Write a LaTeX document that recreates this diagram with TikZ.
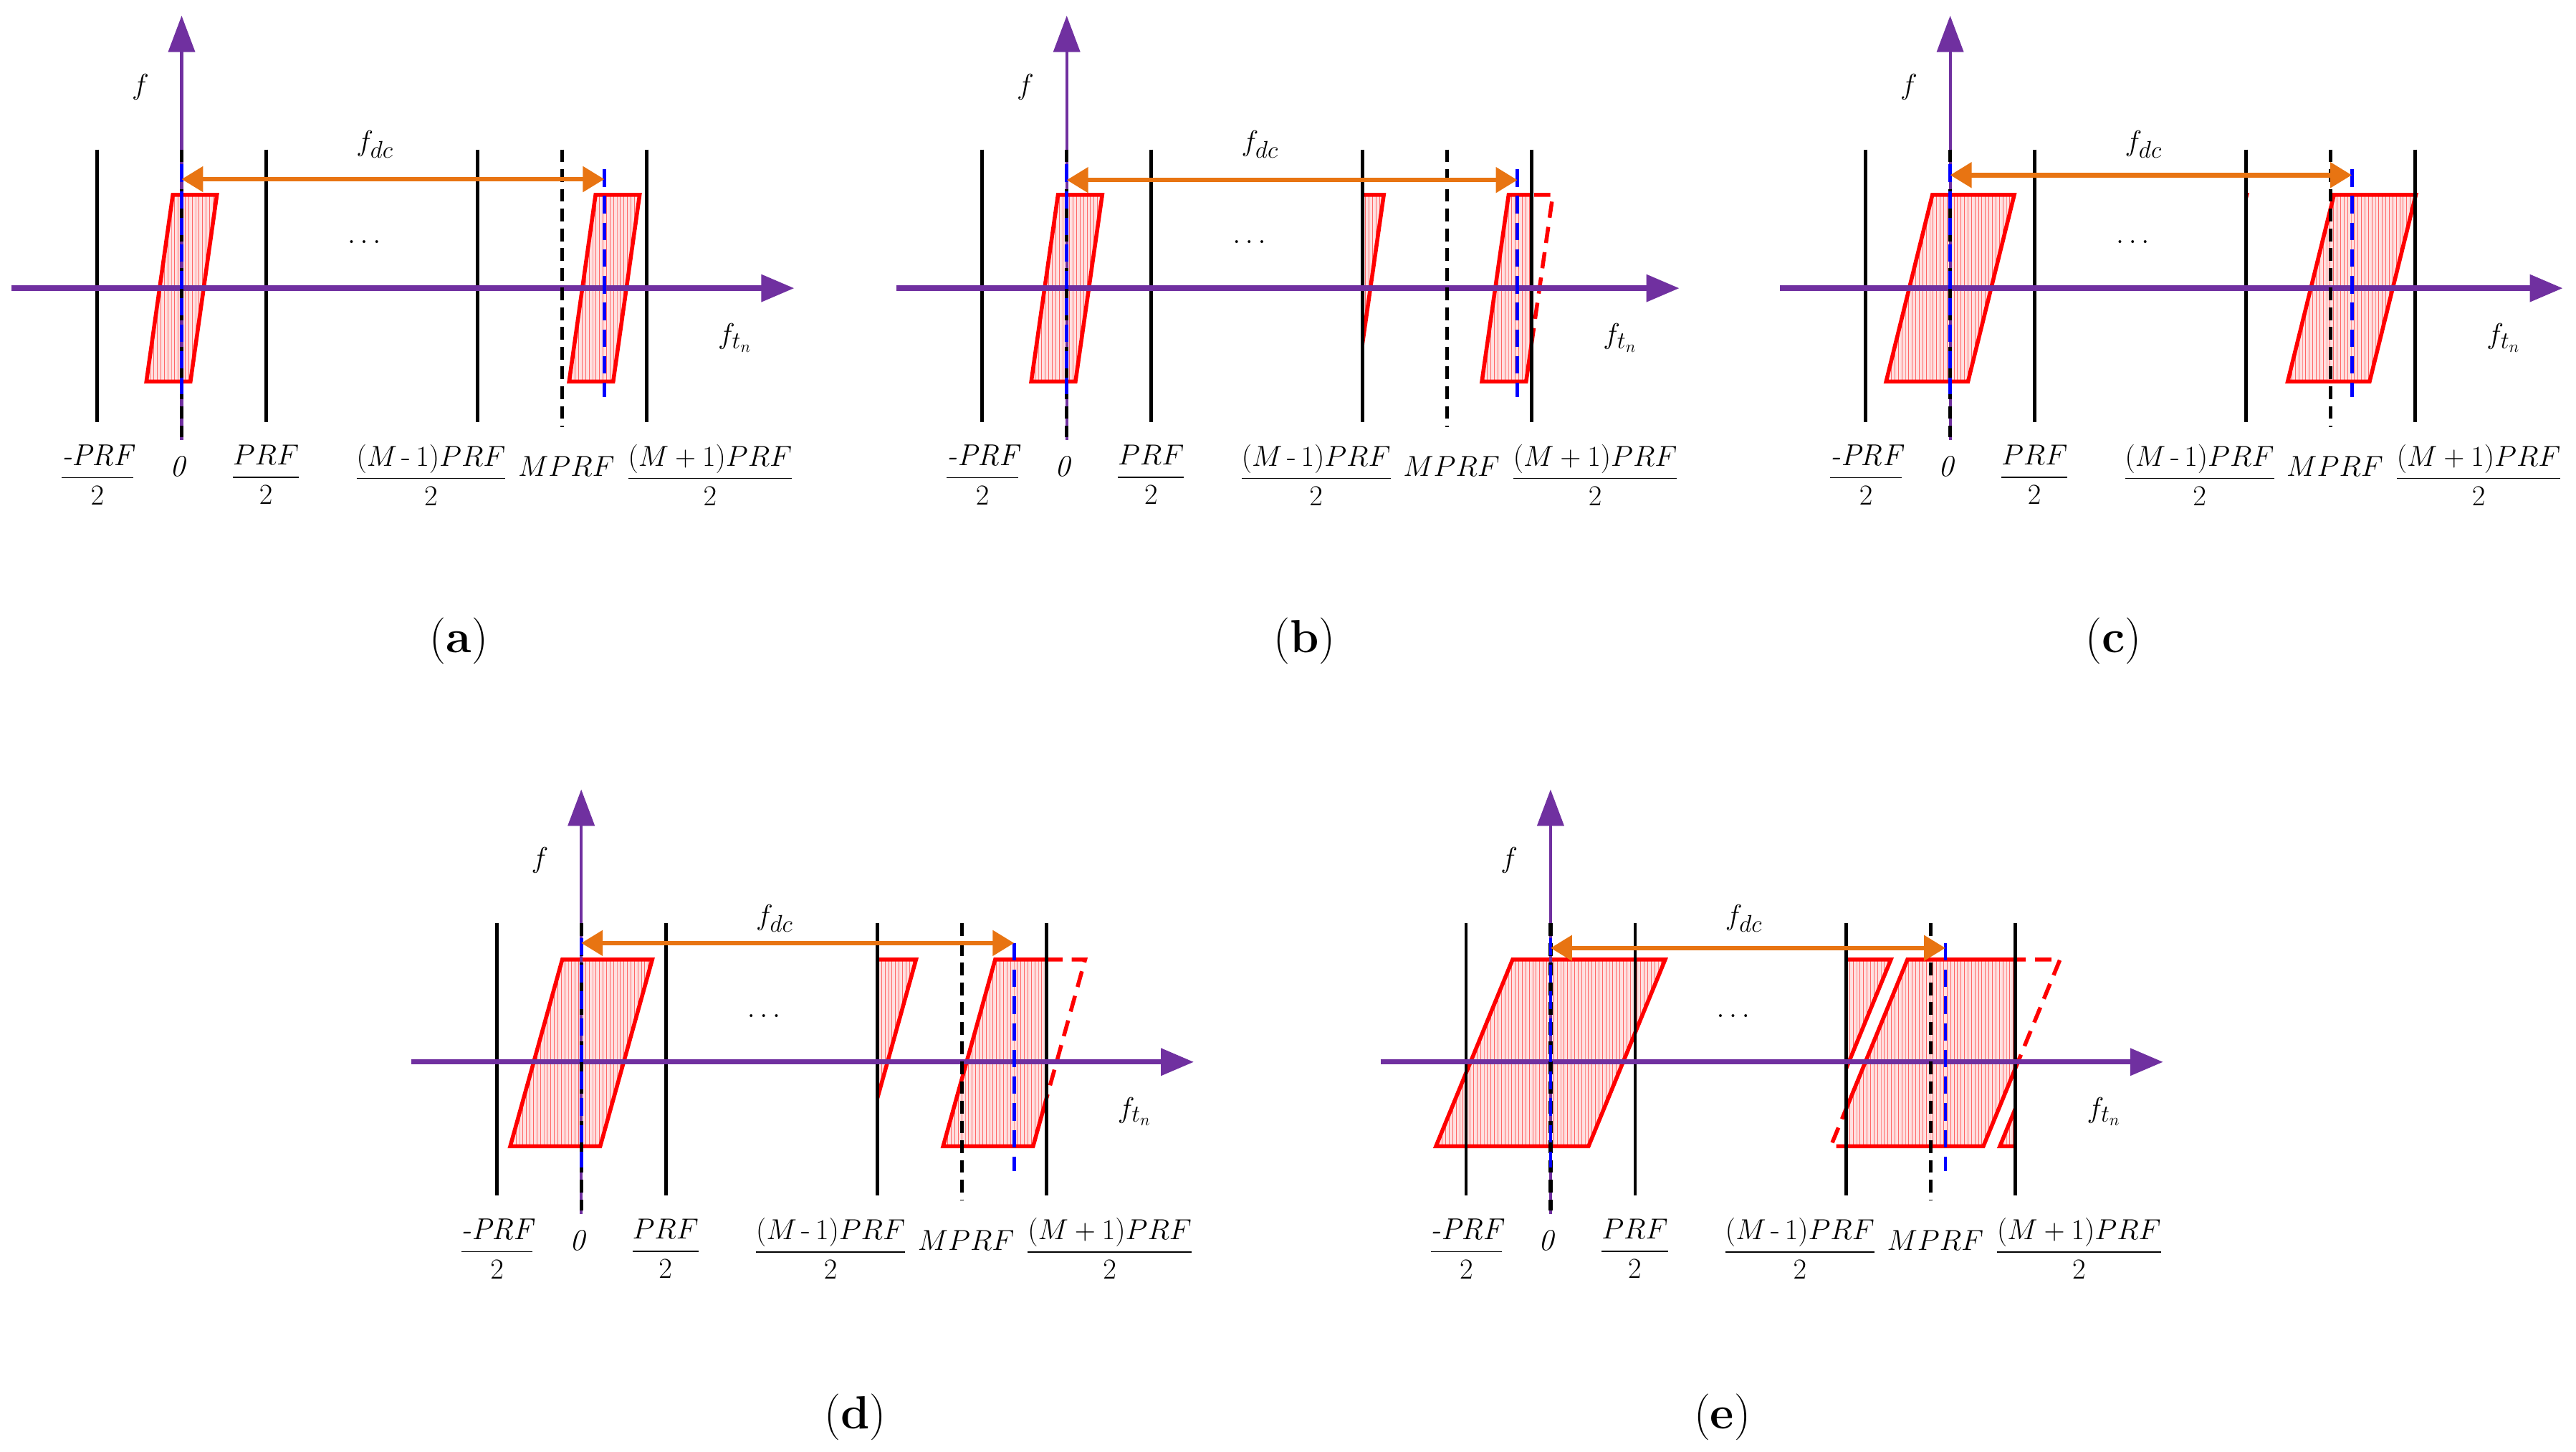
\documentclass[tikz,border=0pt]{standalone}
\usepackage{amsmath}
\usetikzlibrary{arrows.meta,patterns}
\definecolor{axpurple}{RGB}{112,48,160}
\definecolor{arrorange}{RGB}{232,116,18}
\tikzset{
 hatch/.style={preaction={fill=red!12}, pattern=vertical lines, pattern color=red!60, draw=red, line width=3.4pt, line join=miter},
 paradash/.style={draw=red, line width=3.4pt, dash pattern=on 14pt off 8pt},
 bline/.style={black, line width=3pt},
 bdash/.style={black, line width=3.2pt, dash pattern=on 11pt off 6pt},
 bluedash/.style={blue, line width=3pt, dash pattern=on 15pt off 8pt},
 haxis/.style={axpurple, line width=4.5pt, -{Triangle[length=10mm,width=8mm]}},
 vaxis/.style={axpurple, line width=2.6pt, -{Triangle[length=11mm,width=8mm]}},
 oarrow/.style={arrorange, line width=4pt, {Triangle[length=6.5mm,width=7.5mm]}-{Triangle[length=6.5mm,width=7.5mm]}},
 lbl/.style={font=\fontsize{26}{30}\selectfont, inner sep=0pt},
 biglbl/.style={font=\fontsize{31}{34}\selectfont, inner sep=0pt},
 captxt/.style={font=\fontsize{40}{44}\selectfont, inner sep=0pt}
}
% parallelogram: center c, top y, bottom y, width w, skew s
\newcommand\paraP[5]{(#1+#5/2-#4/2,#2) -- (#1+#5/2+#4/2,#2) -- (#1-#5/2+#4/2,#3) -- (#1-#5/2-#4/2,#3) -- cycle}
% panel: x0, ya, yt, yb, B (in u), w, s, orange y, name
\newcommand\panel[9]{%
\pgfmathsetmacro\xo{#1}%
\pgfmathsetmacro\ya{#2}%
\pgfmathsetmacro\cB{#1+#5*51.2}%
\pgfmathsetmacro\cBl{\cB-102.4}%
\pgfmathsetmacro\cBr{\cB+102.4}%
\pgfmathsetmacro\wl{#1+3.5*51.2}%
\pgfmathsetmacro\wr{#1+5.5*51.2}%
\draw[hatch] \paraP{\xo}{#3}{#4}{#6}{#7};
\begin{scope}
 \clip (\wl,0) rectangle (\wr,900);
 \draw[hatch] \paraP{\cB}{#3}{#4}{#6}{#7};
 \draw[hatch] \paraP{\cBl}{#3}{#4}{#6}{#7};
 \draw[hatch] \paraP{\cBr}{#3}{#4}{#6}{#7};
\end{scope}
\begin{scope}[even odd rule]
 \clip (-10,-10) rectangle (1600,900) (\wl,-10) rectangle (\wr,900);
 \draw[paradash] \paraP{\cB}{#3}{#4}{#6}{#7};
\end{scope}
\foreach \k in {-1,1,3.5,5.5}{\draw[bline] (\xo+\k*51.2,\ya-84) -- (\xo+\k*51.2,\ya+81);}
\coordinate (#9h1) at (\xo-103,\ya);
\coordinate (#9h2) at (\xo+371,\ya);
\coordinate (#9v1) at (\xo,\ya+92);
\coordinate (#9v2) at (\xo,\ya-165);
\draw[haxis] (#9h1) -- (#9h2);
\draw[vaxis] (#9v1) -- (#9v2);
\draw[bdash] (\xo,\ya-84) -- (\xo,\ya+90);
\draw[bdash] (\xo+4.5*51.2,\ya-84) -- (\xo+4.5*51.2,\ya+84);
\draw[bluedash] (\xo,\ya-75) -- (\xo,\ya+64);
\draw[bluedash] (\cB,\ya-72) -- (\cB,\ya+66);
\coordinate (#9o1) at (\xo,#8);
\coordinate (#9o2) at (\cB,#8);
\draw[oarrow] (#9o1) -- (#9o2);
\node[biglbl] (#9f) at (\xo-25,\ya-122) {$f$};
\node[biglbl] (#9fdc) at (\xo+117,\ya-87) {$f_{dc}$};
\node[lbl] (#9dots) at (\xo+112,\ya-28) {$\dots$};
\node[biglbl] (#9ftn) at (\xo+335,\ya+30) {$f_{t_n}$};
\node[lbl] (#9l1) at (\xo-51,\ya+113) {$\displaystyle\frac{\textit{-PRF}}{2}$};
\node[lbl] (#9l2) at (\xo-2,\ya+108) {\textit{0}};
\node[lbl] (#9l3) at (\xo+51,\ya+113) {$\displaystyle\frac{PRF}{2}$};
\node[lbl] (#9l4) at (\xo+151,\ya+113) {$\displaystyle\frac{\left(M\,\text{-}\,1\right)\!PRF}{2}$};
\node[lbl] (#9l5) at (\xo+233,\ya+108) {$MPRF$};
\node[lbl] (#9l6) at (\xo+320,\ya+113) {$\displaystyle\frac{\left(M+1\right)\!PRF}{2}$};
}
\begin{document}
\begin{tikzpicture}[x=0.05cm,y=-0.05cm]
\useasboundingbox (0,0) rectangle (1560,879);
\fill[white] (0,0) rectangle (1560,879);
\panel{110}{174.5}{118}{231}{5.0}{26.7}{16}{108.5}{pa}
\panel{646}{174.5}{118}{231}{5.33}{26.8}{16.2}{109}{pb}
\panel{1181}{174.5}{118}{231}{4.75}{49.6}{28}{106}{pc}
\panel{352}{643}{581}{694}{5.12}{54.5}{31.5}{571}{pd}
\panel{939}{643}{581}{694}{4.67}{92.4}{46.4}{574}{pe}
\node[captxt] (ca) at (278,388) {(\textbf{a})};
\node[captxt] (cb) at (790,388) {(\textbf{b})};
\node[captxt] (cc) at (1280,388) {(\textbf{c})};
\node[captxt] (cd) at (518,858) {(\textbf{d})};
\node[captxt] (ce) at (1043,858) {(\textbf{e})};
\end{tikzpicture}
\end{document}
